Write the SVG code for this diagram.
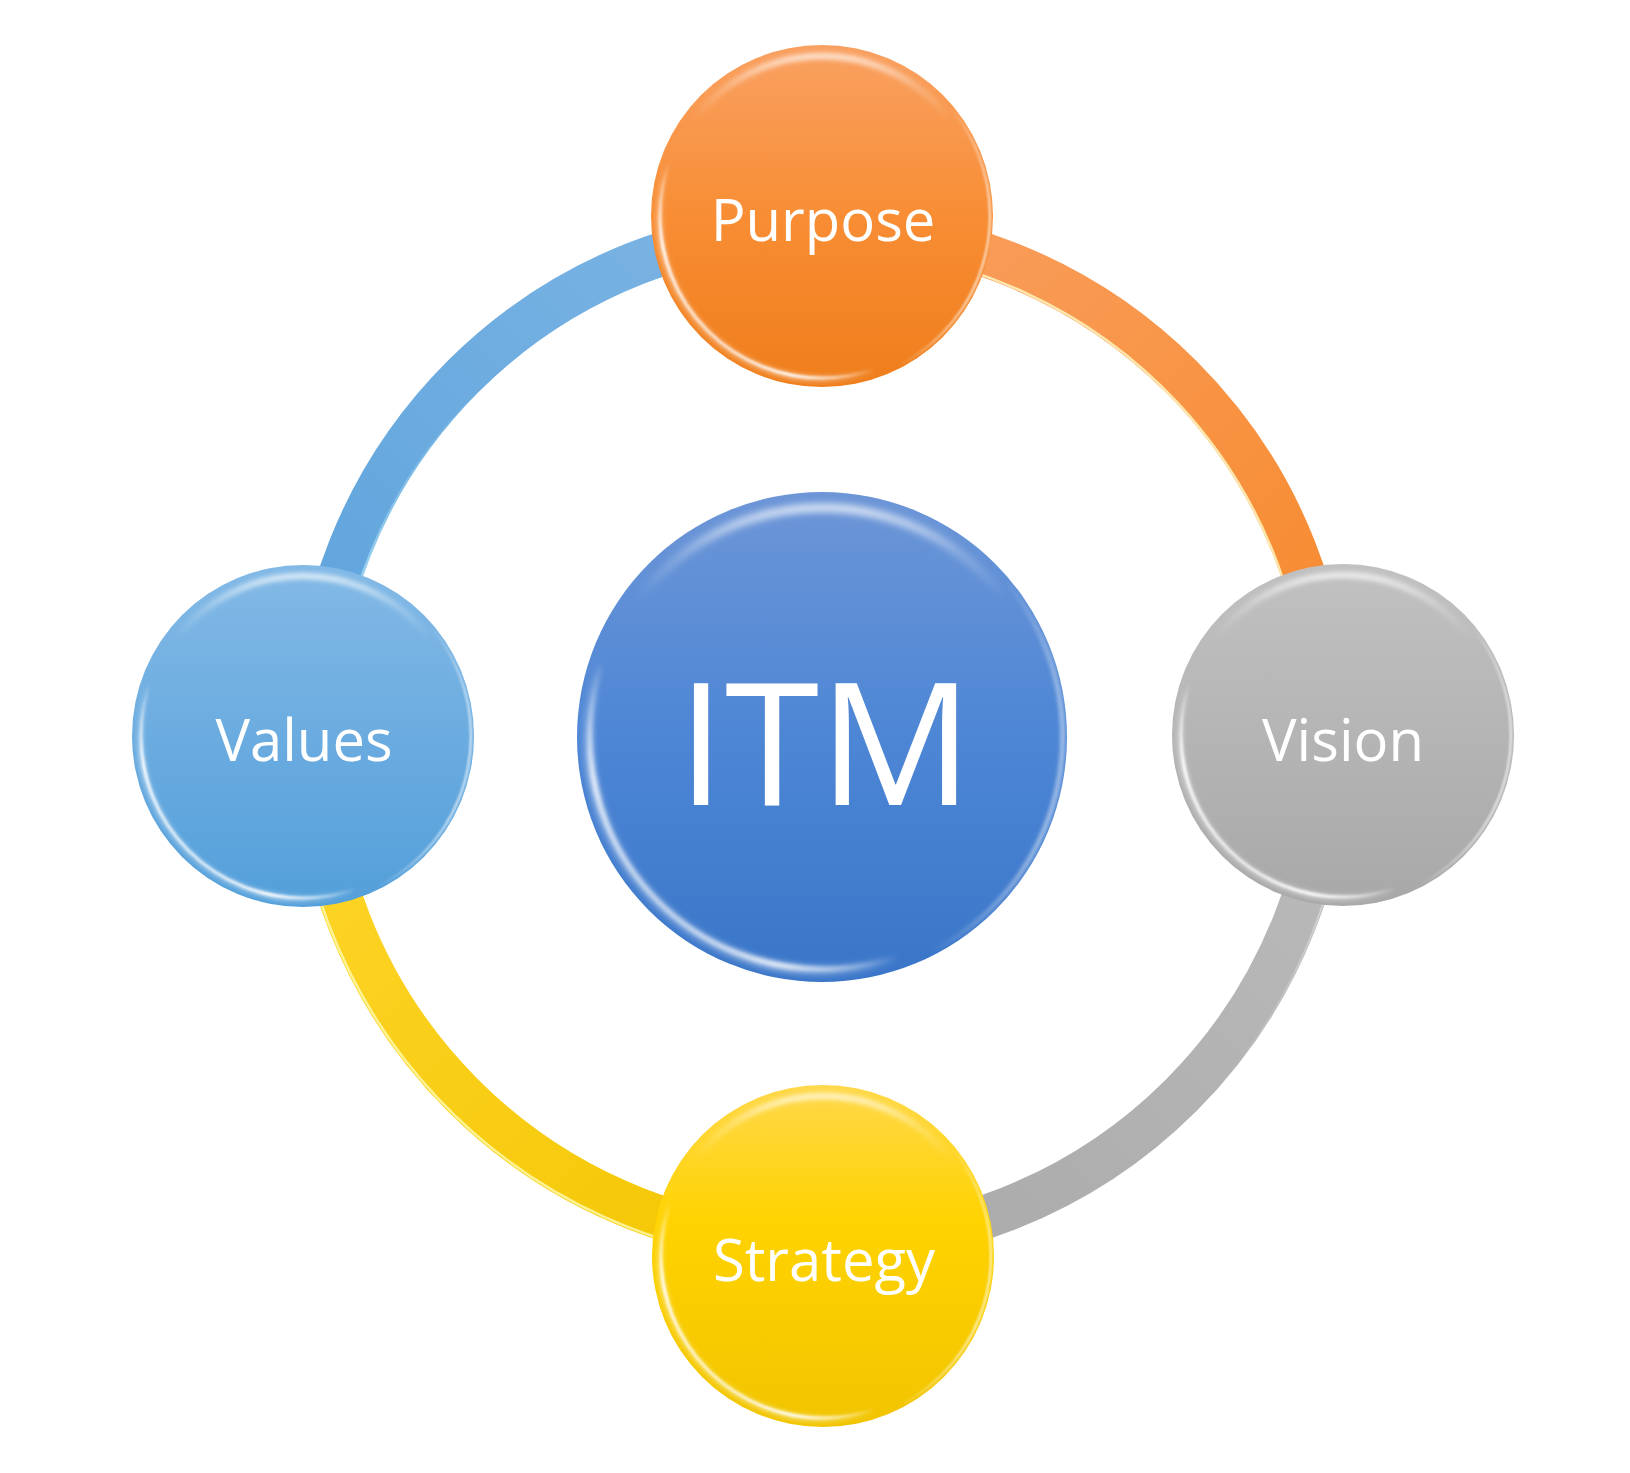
<svg xmlns="http://www.w3.org/2000/svg" xmlns:xlink="http://www.w3.org/1999/xlink" width="1630" height="1473" viewBox="0 0 1630 1473">
<style>
.lbl{font-family:"Open Sans","Noto Sans","Liberation Sans",sans-serif;fill:#ffffff;text-anchor:middle}
.small{font-size:58px}
.big{font-size:171px}
.ring{fill:none;stroke-width:44}
.hl{fill:none;stroke-linecap:butt}
</style>
<defs>
<filter id="soft" x="-20%" y="-20%" width="140%" height="140%"><feGaussianBlur stdDeviation="1.3"/></filter>
<filter id="soft2" x="-20%" y="-20%" width="140%" height="140%"><feGaussianBlur stdDeviation="2.5"/></filter>
<linearGradient id="gPurpose" x1="0" y1="0" x2="0" y2="1"><stop offset="0" stop-color="#F9A162"/><stop offset="0.5" stop-color="#F88D34"/><stop offset="1" stop-color="#EF7E1B"/></linearGradient>
<linearGradient id="gITM" x1="0" y1="0" x2="0" y2="1"><stop offset="0" stop-color="#6D96D7"/><stop offset="0.5" stop-color="#4D86D5"/><stop offset="1" stop-color="#3975C8"/></linearGradient>
<linearGradient id="gVision" x1="0" y1="0" x2="0" y2="1"><stop offset="0" stop-color="#C1C1C1"/><stop offset="1" stop-color="#A8A8A8"/></linearGradient>
<linearGradient id="gValues" x1="0" y1="0" x2="0" y2="1"><stop offset="0" stop-color="#83B9E6"/><stop offset="1" stop-color="#539FDA"/></linearGradient>
<linearGradient id="gStrategy" x1="0" y1="0" x2="0" y2="1"><stop offset="0" stop-color="#FFD84B"/><stop offset="0.4" stop-color="#FFD300"/><stop offset="1" stop-color="#F1C400"/></linearGradient>
<linearGradient id="aOrange" gradientUnits="userSpaceOnUse" x1="822" y1="228" x2="1330" y2="736"><stop offset="0" stop-color="#F9A062"/><stop offset="1" stop-color="#F7892A"/></linearGradient>
<linearGradient id="aGray" gradientUnits="userSpaceOnUse" x1="1330" y1="736" x2="822" y2="1244"><stop offset="0" stop-color="#BBBBBB"/><stop offset="1" stop-color="#A9A9A9"/></linearGradient>
<linearGradient id="aYellow" gradientUnits="userSpaceOnUse" x1="314" y1="736" x2="822" y2="1244"><stop offset="0" stop-color="#FFD52C"/><stop offset="1" stop-color="#F3C600"/></linearGradient>
<linearGradient id="aBlue" gradientUnits="userSpaceOnUse" x1="822" y1="228" x2="314" y2="736"><stop offset="0" stop-color="#7EB5E4"/><stop offset="1" stop-color="#5CA3DC"/></linearGradient>
<linearGradient id="lBlue" gradientUnits="userSpaceOnUse" x1="334" y1="736" x2="480" y2="390"><stop offset="0" stop-color="#C8F4FF" stop-opacity="0.9"/><stop offset="1" stop-color="#C8F4FF" stop-opacity="0"/></linearGradient>
<linearGradient id="lGray" gradientUnits="userSpaceOnUse" x1="1349" y1="760" x2="1220" y2="1085"><stop offset="0" stop-color="#ffffff" stop-opacity="0.6"/><stop offset="1" stop-color="#ffffff" stop-opacity="0"/></linearGradient>
<linearGradient id="hLL" x1="0.85" y1="0.15" x2="0.15" y2="0.85"><stop offset="0" stop-color="#ffffff" stop-opacity="0"/><stop offset="0.72" stop-color="#ffffff" stop-opacity="0"/><stop offset="0.92" stop-color="#ffffff" stop-opacity="0.95"/><stop offset="1" stop-color="#ffffff" stop-opacity="0.7"/></linearGradient>
<linearGradient id="hTop" x1="0" y1="0" x2="0" y2="1"><stop offset="0" stop-color="#ffffff" stop-opacity="0.75"/><stop offset="0.1" stop-color="#ffffff" stop-opacity="0.25"/><stop offset="0.2" stop-color="#ffffff" stop-opacity="0"/><stop offset="1" stop-color="#ffffff" stop-opacity="0"/></linearGradient>
<linearGradient id="hR" x1="0" y1="0.3" x2="1" y2="0.5"><stop offset="0" stop-color="#ffffff" stop-opacity="0"/><stop offset="0.82" stop-color="#ffffff" stop-opacity="0"/><stop offset="1" stop-color="#ffffff" stop-opacity="0.8"/></linearGradient>
<g id="gloss">
<circle r="163" fill="none" stroke="url(#hLL)" stroke-width="6" opacity="0.5" filter="url(#soft2)"/>
<circle r="162" fill="none" stroke="url(#hLL)" stroke-width="3" filter="url(#soft)"/>
<circle r="160" fill="none" stroke="url(#hTop)" stroke-width="6" filter="url(#soft2)"/>
<circle r="168" fill="none" stroke="url(#hR)" stroke-width="2" filter="url(#soft)"/>
</g>
</defs>
<rect width="1630" height="1473" fill="#ffffff"/>
<g id="connectors">
<path class="ring" d="M 822 228 A 508 508 0 0 1 1330 736" stroke="url(#aOrange)"/>
<path class="hl" d="M 855 249 A 488 488 0 0 1 1309 736" stroke="#FFF0B8" stroke-width="2.5" opacity="0.9"/>
<path class="ring" d="M 1330 736 A 508 508 0 0 1 822 1244" stroke="url(#aGray)"/>
<path class="hl" d="M 1349 760 A 528 528 0 0 1 1220 1085" stroke="url(#lGray)" stroke-width="2"/>
<path class="ring" d="M 822 1244 A 508 508 0 0 1 314 736" stroke="url(#aYellow)"/>
<path class="hl" d="M 790 1263 A 528 528 0 0 1 294 736" stroke="#FFF7A0" stroke-width="2.5" opacity="0.9"/>
<path class="ring" d="M 314 736 A 508 508 0 0 1 822 228" stroke="url(#aBlue)"/>
<path class="hl" d="M 334 736 A 488 488 0 0 1 480 390" stroke="url(#lBlue)" stroke-width="2.5"/>
</g>
<g id="node-purpose">
<circle cx="822" cy="216" r="171" fill="url(#gPurpose)"/>
<use xlink:href="#gloss" href="#gloss" transform="translate(822 216)"/>
<text class="lbl small" x="823" y="241">Purpose</text>
</g>
<g id="node-vision">
<circle cx="1343" cy="735" r="171" fill="url(#gVision)"/>
<use xlink:href="#gloss" href="#gloss" transform="translate(1343 735)"/>
<text class="lbl small" x="1343" y="761">Vision</text>
</g>
<g id="node-strategy">
<circle cx="823" cy="1256" r="171" fill="url(#gStrategy)"/>
<use xlink:href="#gloss" href="#gloss" transform="translate(823 1256)"/>
<text class="lbl small" x="824" y="1281">Strategy</text>
</g>
<g id="node-values">
<circle cx="303" cy="736" r="171" fill="url(#gValues)"/>
<use xlink:href="#gloss" href="#gloss" transform="translate(303 736)"/>
<text class="lbl small" x="304" y="761">Values</text>
</g>
<g id="node-itm">
<circle cx="822" cy="737" r="245" fill="url(#gITM)"/>
<use xlink:href="#gloss" href="#gloss" transform="translate(822 737) scale(1.433)"/>
<text class="lbl big" x="825" y="805">ITM</text>
</g>
</svg>
